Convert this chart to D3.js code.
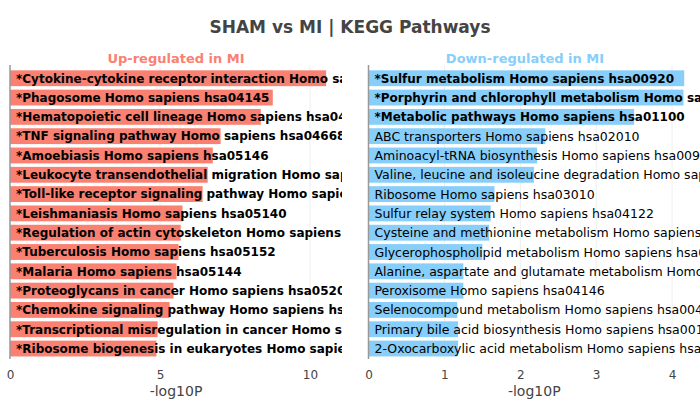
<!DOCTYPE html>
<html><head><meta charset="utf-8">
<script src="https://cdn.jsdelivr.net/npm/d3@7"></script>
<style>body{margin:0;background:#fff}svg{display:block}</style>
</head><body><svg id="c" width="700" height="400"></svg>
<script>
const upLabels = [
"*Cytokine-cytokine receptor interaction Homo sapiens hsa04060",
"*Phagosome Homo sapiens hsa04145",
"*Hematopoietic cell lineage Homo sapiens hsa04640",
"*TNF signaling pathway Homo sapiens hsa04668",
"*Amoebiasis Homo sapiens hsa05146",
"*Leukocyte transendothelial migration Homo sapiens hsa04670",
"*Toll-like receptor signaling pathway Homo sapiens hsa04620",
"*Leishmaniasis Homo sapiens hsa05140",
"*Regulation of actin cytoskeleton Homo sapiens hsa04810",
"*Tuberculosis Homo sapiens hsa05152",
"*Malaria Homo sapiens hsa05144",
"*Proteoglycans in cancer Homo sapiens hsa05205",
"*Chemokine signaling pathway Homo sapiens hsa04062",
"*Transcriptional misregulation in cancer Homo sapiens hsa05202",
"*Ribosome biogenesis in eukaryotes Homo sapiens hsa03008"];
const upValues = [10.54, 8.76, 8.36, 7.02, 6.76, 6.59, 6.42, 5.75, 5.69, 5.62, 5.55, 5.45, 5.32, 4.92, 4.88];
const downLabels = [
"*Sulfur metabolism Homo sapiens hsa00920",
"*Porphyrin and chlorophyll metabolism Homo sapiens hsa00860",
"*Metabolic pathways Homo sapiens hsa01100",
"ABC transporters Homo sapiens hsa02010",
"Aminoacyl-tRNA biosynthesis Homo sapiens hsa00970",
"Valine, leucine and isoleucine degradation Homo sapiens hsa00280",
"Ribosome Homo sapiens hsa03010",
"Sulfur relay system Homo sapiens hsa04122",
"Cysteine and methionine metabolism Homo sapiens hsa00270",
"Glycerophospholipid metabolism Homo sapiens hsa00564",
"Alanine, aspartate and glutamate metabolism Homo sapiens hsa00250",
"Peroxisome Homo sapiens hsa04146",
"Selenocompound metabolism Homo sapiens hsa00450",
"Primary bile acid biosynthesis Homo sapiens hsa00120",
"2-Oxocarboxylic acid metabolism Homo sapiens hsa01210"];
const downValues = [4.16, 4.15, 3.50, 2.33, 2.22, 2.18, 1.66, 1.61, 1.59, 1.50, 1.25, 1.25, 1.17, 1.18, 1.18];
const upTicks = [0, 5, 10];
const downTicks = [0, 1, 2, 3, 4];
const titleText = "SHAM vs MI | KEGG Pathways";
const upTitle = "Up-regulated in MI";
const downTitle = "Down-regulated in MI";
const axisTitle = "-log10P";

const svg = d3.select("#c");
const FONT = "'DejaVu Sans', Verdana, sans-serif";
const bandTop = 68.6, bandBottom = 358.2;
const lineTop = 65, lineBottom = 359;

svg.append("text").attr("x", 350).attr("y", 33).attr("text-anchor", "middle")
  .attr("font-family", FONT).attr("font-weight", "bold").attr("font-size", 17)
  .attr("fill", "#444").text(titleText);

function panel(id, x0, x1, labels, values, ticks, color, title, titleX) {
  const x = d3.scaleLinear().domain([0, d3.max(values) * 1.05]).range([x0, x1]);
  const y = d3.scaleBand().domain(labels).range([bandTop, bandBottom]).paddingInner(0.18).paddingOuter(0.09);
  const g = svg.append("g");
  svg.append("clipPath").attr("id", id).append("rect")
    .attr("x", x0).attr("y", lineTop).attr("width", x1 - x0).attr("height", lineBottom - lineTop);
  g.selectAll(".grid").data(ticks.filter(t => t > 0)).join("line")
    .attr("x1", d => x(d)).attr("x2", d => x(d)).attr("y1", lineTop).attr("y2", lineBottom)
    .attr("stroke", "#eee").attr("stroke-width", 1);
  const inner = g.append("g").attr("clip-path", `url(#${id})`);
  inner.selectAll("rect").data(values).join("rect")
    .attr("x", x(0)).attr("y", (d, i) => y(labels[i]))
    .attr("width", d => x(d) - x(0)).attr("height", y.bandwidth()).attr("fill", color);
  inner.selectAll("text").data(labels).join("text")
    .attr("x", x(0) + 6).attr("y", d => y(d) + y.bandwidth() / 2).attr("dy", "0.36em")
    .attr("font-family", FONT)
    .attr("font-size", d => d.startsWith("*") ? 12 : 12.5)
    .attr("font-weight", d => d.startsWith("*") ? "bold" : "normal")
    .attr("fill", "#000").text(d => d);
  g.append("line").attr("x1", x(0)).attr("x2", x(0)).attr("y1", lineTop).attr("y2", lineBottom)
    .attr("stroke", "#999").attr("stroke-width", 1.5);
  const ax = g.append("g").attr("transform", `translate(0,${lineBottom})`)
    .call(d3.axisBottom(x).tickValues(ticks).tickSize(0).tickPadding(11).tickFormat(d3.format("d")));
  ax.select(".domain").remove();
  ax.selectAll("text").attr("font-family", FONT).attr("font-size", 12).attr("fill", "#444");
  g.append("text").attr("x", (x0 + x1) / 2).attr("y", 396).attr("text-anchor", "middle")
    .attr("font-family", FONT).attr("font-size", 14).attr("fill", "#444").text(axisTitle);
  g.append("text").attr("x", titleX).attr("y", 63).attr("text-anchor", "middle")
    .attr("font-family", FONT).attr("font-weight", "bold").attr("font-size", 13)
    .attr("fill", color).text(title);
}
panel("clipUp", 10, 342, upLabels, upValues, upTicks, "#FA8072", upTitle, 176);
panel("clipDown", 368.5, 700, downLabels, downValues, downTicks, "#87CEFA", downTitle, 525);
</script></body></html>
